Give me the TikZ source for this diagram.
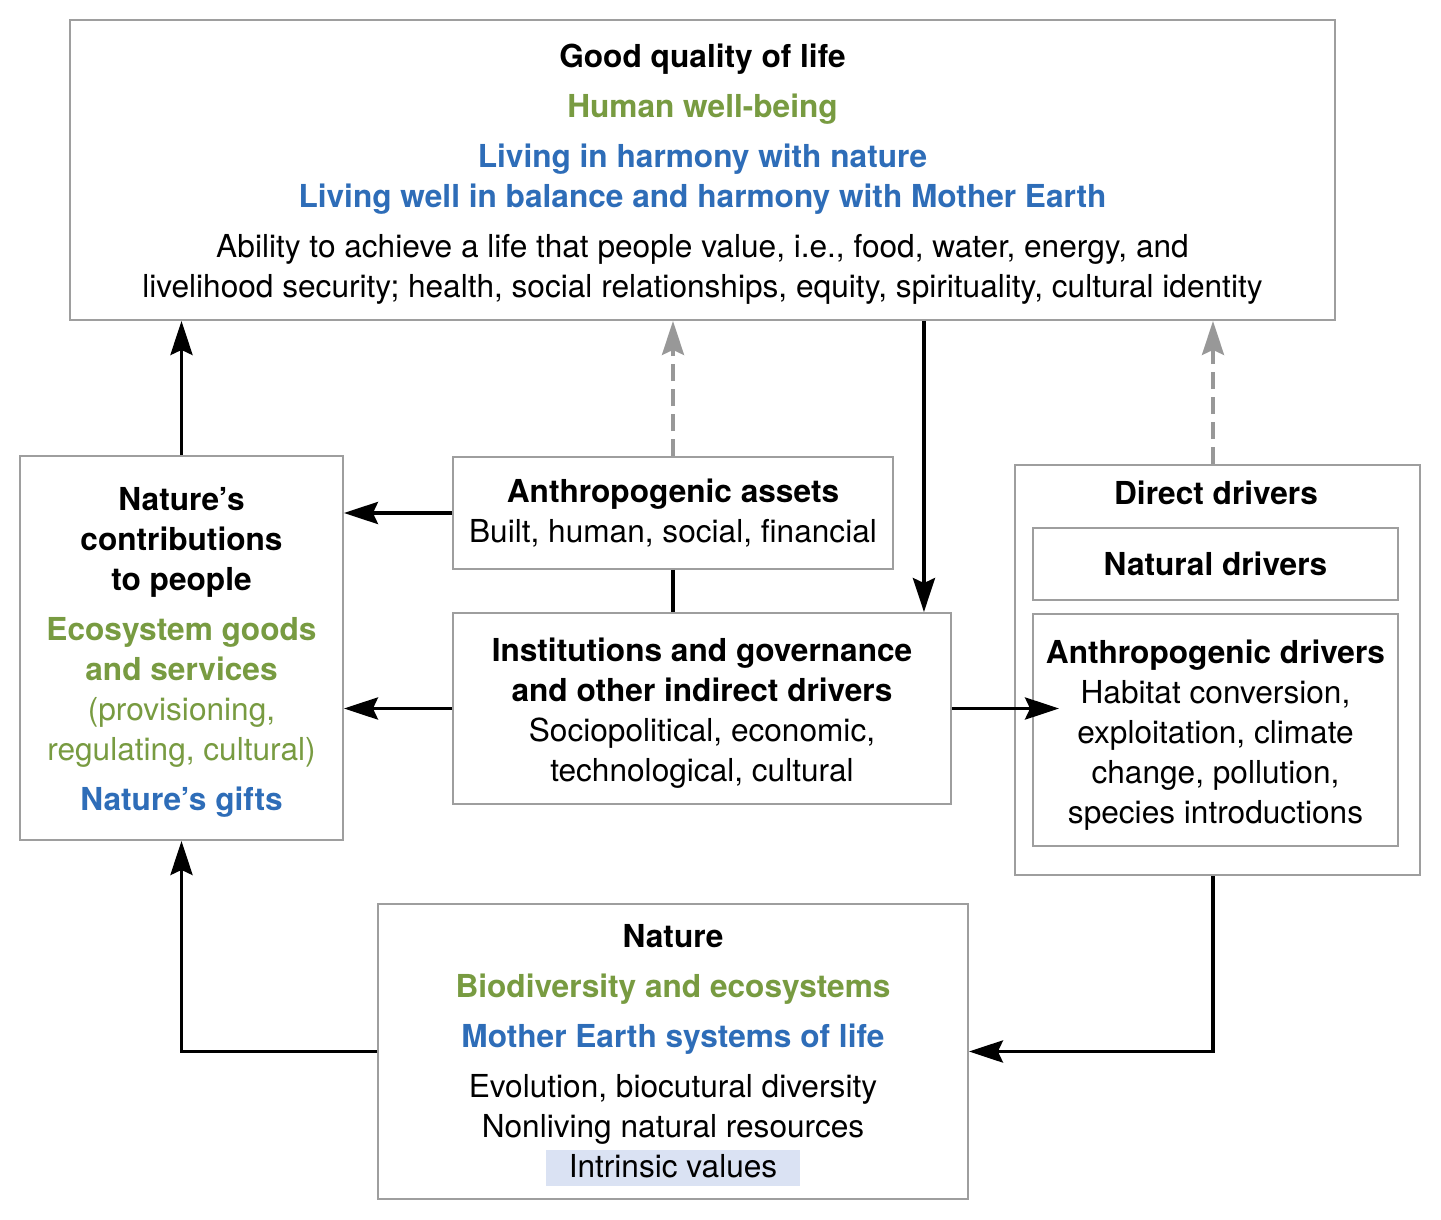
\documentclass[tikz,border=0pt]{standalone}
\usepackage{fontspec}
\setmainfont{TeX Gyre Heros}
\usetikzlibrary{arrows.meta,positioning}
\definecolor{leafgreen}{RGB}{120,155,65}
\definecolor{earthblue}{RGB}{46,109,184}
\definecolor{framegray}{RGB}{158,158,158}
\definecolor{dashgray}{RGB}{152,152,152}
\definecolor{valuebg}{RGB}{218,226,243}
\newcommand\toprule[1]{\rule{0pt}{#1}}

\begin{document}
\begin{tikzpicture}[x=0.02cm,y=-0.02cm,
  box/.style={draw=framegray,line width=1.1pt,fill=white,align=center,inner sep=0pt,font=\fontsize{18}{22.8}\selectfont},
  flow/.style={line width=2.2pt,-{Stealth[length=0.68cm,width=0.44cm,inset=0.1cm]}},
  back/.style={flow,dashgray,line width=2pt,dash pattern=on 0.34cm off 0.16cm}]
\useasboundingbox (0,0) rectangle (1441,1220);

% boxes
\node[box,minimum width=25.3cm,minimum height=6cm] (life) at (702.5,170) {\toprule{18pt}\textbf{Good quality of life}\\[0.2cm]
 {\color{leafgreen}\textbf{Human well-being}}\\[0.2cm]
 {\color{earthblue}\textbf{Living in harmony with nature}}\\
 {\color{earthblue}\textbf{Living well in balance and harmony with Mother Earth}}\\[0.2cm]
 Ability to achieve a life that people value, i.e., food, water, energy, and\\
 livelihood security; health, social relationships, equity, spirituality, cultural identity};
\node[box,minimum width=6.46cm,minimum height=7.68cm] (ncp) at (181.5,648) {\toprule{18pt}\textbf{Nature’s}\\ \textbf{contributions}\\ \textbf{to people}\\[0.2cm]
 {\color{leafgreen}\textbf{Ecosystem goods}}\\ {\color{leafgreen}\textbf{and services}}\\
 {\color{leafgreen}(provisioning,}\\ {\color{leafgreen}regulating, cultural)}\\[0.2cm]
 {\color{earthblue}\textbf{Nature’s gifts}}};
\node[box,minimum width=8.8cm,minimum height=2.24cm] (assets) at (673,513) {\textbf{Anthropogenic assets}\\ Built, human, social, financial};
\node[box,minimum width=9.96cm,minimum height=3.82cm] (inst) at (702,708.5) {\toprule{19pt}\textbf{Institutions and governance}\\ \textbf{and other indirect drivers}\\ Sociopolitical, economic,\\ technological, cultural};
\node[box,minimum width=8.1cm,minimum height=8.2cm] (direct) at (1217.5,670) {};
\node[box,draw=none,fill=none] (directtitle) at (1216,493) {\textbf{Direct drivers}};
\node[box,minimum width=7.3cm,minimum height=1.44cm] (natural) at (1215.5,564) {\textbf{Natural drivers}};
\node[box,minimum width=7.3cm,minimum height=4.64cm] (anthro) at (1215.5,730) {\toprule{19pt}\textbf{Anthropogenic drivers}\\ Habitat conversion,\\ exploitation, climate\\ change, pollution,\\ species introductions};
\node[box,minimum width=11.8cm,minimum height=5.9cm] (nature) at (673,1051.5) {\toprule{17pt}\textbf{Nature}\\[0.2cm]
 {\color{leafgreen}\textbf{Biodiversity and ecosystems}}\\[0.2cm]
 {\color{earthblue}\textbf{Mother Earth systems of life}}\\[0.2cm]
 Evolution, biocutural diversity\\ Nonliving natural resources\\
 {\setlength{\fboxsep}{0pt}\colorbox{valuebg}{\rule[-0.16cm]{0pt}{0.72cm}\hspace{0.46cm}Intrinsic values\hspace{0.46cm}}}};

% connectors
\draw[flow] (ncp.north) -- (ncp.north |- life.south);
\draw[back] (assets.north) -- (assets.north |- life.south);
\draw[back] ([xshift=-0.09cm]direct.north) -- ([xshift=-0.09cm]direct.north |- life.south);
\draw[flow] ([xshift=4.43cm]life.south) -- ([xshift=4.43cm]life.south |- inst.north);
\draw[flow] (assets.west) -- (assets.west -| ncp.east);
\draw[flow] (inst.west) -- (inst.west -| ncp.east);
\draw[line width=2.2pt] (assets.south) -- (assets.south |- inst.north);
\draw[flow] (inst.east) -- ([xshift=0.54cm]anthro.west |- inst.east);
\draw[flow] (nature.west) -| (ncp.south);
\draw[flow] ([xshift=-0.09cm]direct.south) |- (nature.east);
\end{tikzpicture}
\end{document}
